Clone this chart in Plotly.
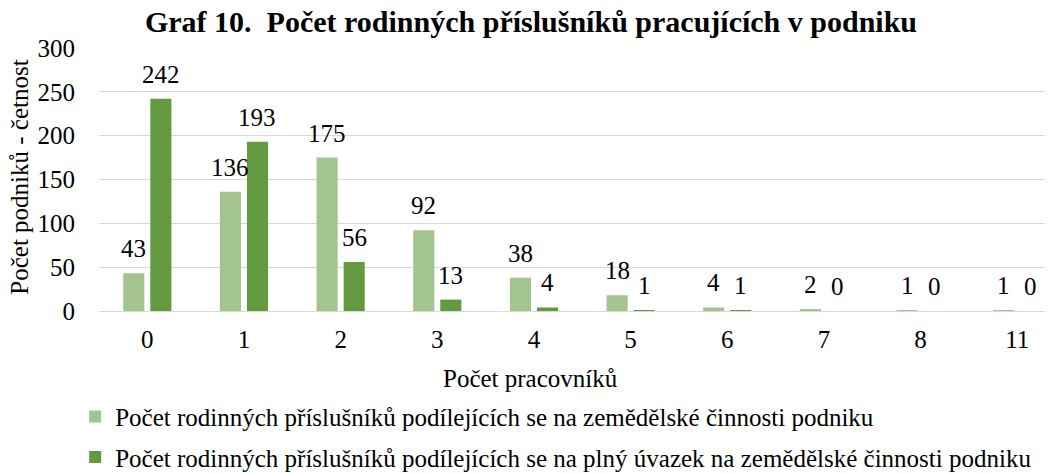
import plotly.graph_objects as go

categories = ["0", "1", "2", "3", "4", "5", "6", "7", "8", "11"]
series_names = [
    "Počet rodinných příslušníků podílejících se na zemědělské činnosti podniku",
    "Počet rodinných příslušníků podílejících se na plný úvazek na zemědělské činnosti podniku",
]
values_any = [43, 136, 175, 92, 38, 18, 4, 2, 1, 1]
values_full = [242, 193, 56, 13, 4, 1, 1, 0, 0, 0]
colors = ["#A3C48E", "#639A3F"]
y_ticks = [0, 50, 100, 150, 200, 250, 300]

FONT = "Liberation Serif"
FS = 25

fig = go.Figure()
for i, (name, vals) in enumerate(zip(series_names, [values_any, values_full])):
    fig.add_trace(go.Bar(
        x=categories, y=vals, name=name,
        marker=dict(color=colors[i], line=dict(width=0)),
        legendgroup=f"g{i}",
    ))

# data labels above bars (offset left/right for grouped bars); x given as category index
annotations = []
for i, vals in enumerate([values_any, values_full]):
    shift = -13.5 if i == 0 else 13.5
    for idx, v in enumerate(vals):
        annotations.append(dict(
            x=idx, y=v, xref="x", yref="y", text=str(v), showarrow=False,
            xanchor="center", yanchor="bottom", xshift=shift, yshift=9,
            font=dict(family=FONT, size=FS, color="#000000"),
        ))

# y-axis title
annotations.append(dict(
    x=-0.083, y=0.51, xref="paper", yref="paper", text="Počet podniků - četnost",
    showarrow=False, textangle=-90, xanchor="center", yanchor="middle",
    font=dict(family=FONT, size=FS, color="#000000"),
))
# x-axis title
annotations.append(dict(
    x=0.452, y=-0.255, xref="paper", yref="paper", text="Počet pracovníků",
    showarrow=False, xanchor="center", yanchor="middle",
    font=dict(family=FONT, size=FS, color="#000000"),
))

fig.update_layout(
    width=1045, height=465,
    margin=dict(l=91, r=0, t=40, b=162, autoexpand=False),
    paper_bgcolor="white", plot_bgcolor="white",
    barmode="group", bargap=0.44, bargroupgap=0.22,
    font=dict(family=FONT, size=FS, color="#000000"),
    title=dict(
        text="<b>Graf 10.  Počet rodinných příslušníků pracujících v podniku</b>",
        x=0.5005, xanchor="center", y=0.970, yanchor="middle",
        font=dict(family=FONT, size=30, color="#000000"),
    ),
    xaxis=dict(
        type="category", range=[-0.5, 9.37], automargin=False,
        showgrid=False, showline=False, ticks="", ticklabelstandoff=11,
        tickfont=dict(family=FONT, size=FS),
    ),
    yaxis=dict(
        range=[0, 300], tickvals=y_ticks, automargin=False,
        showgrid=True, gridcolor="#D9D9D9", gridwidth=1,
        zeroline=True, zerolinecolor="#D9D9D9", zerolinewidth=1,
        showline=False, ticks="", ticklabelstandoff=23,
        tickfont=dict(family=FONT, size=FS),
    ),
    legend=dict(
        orientation="v", x=-0.025, xanchor="left", y=-0.315, yanchor="top",
        font=dict(family=FONT, size=FS), tracegroupgap=5,
        itemwidth=30, bgcolor="rgba(0,0,0,0)",
    ),
    annotations=annotations,
    showlegend=True,
)

fig.write_html("out.html")
